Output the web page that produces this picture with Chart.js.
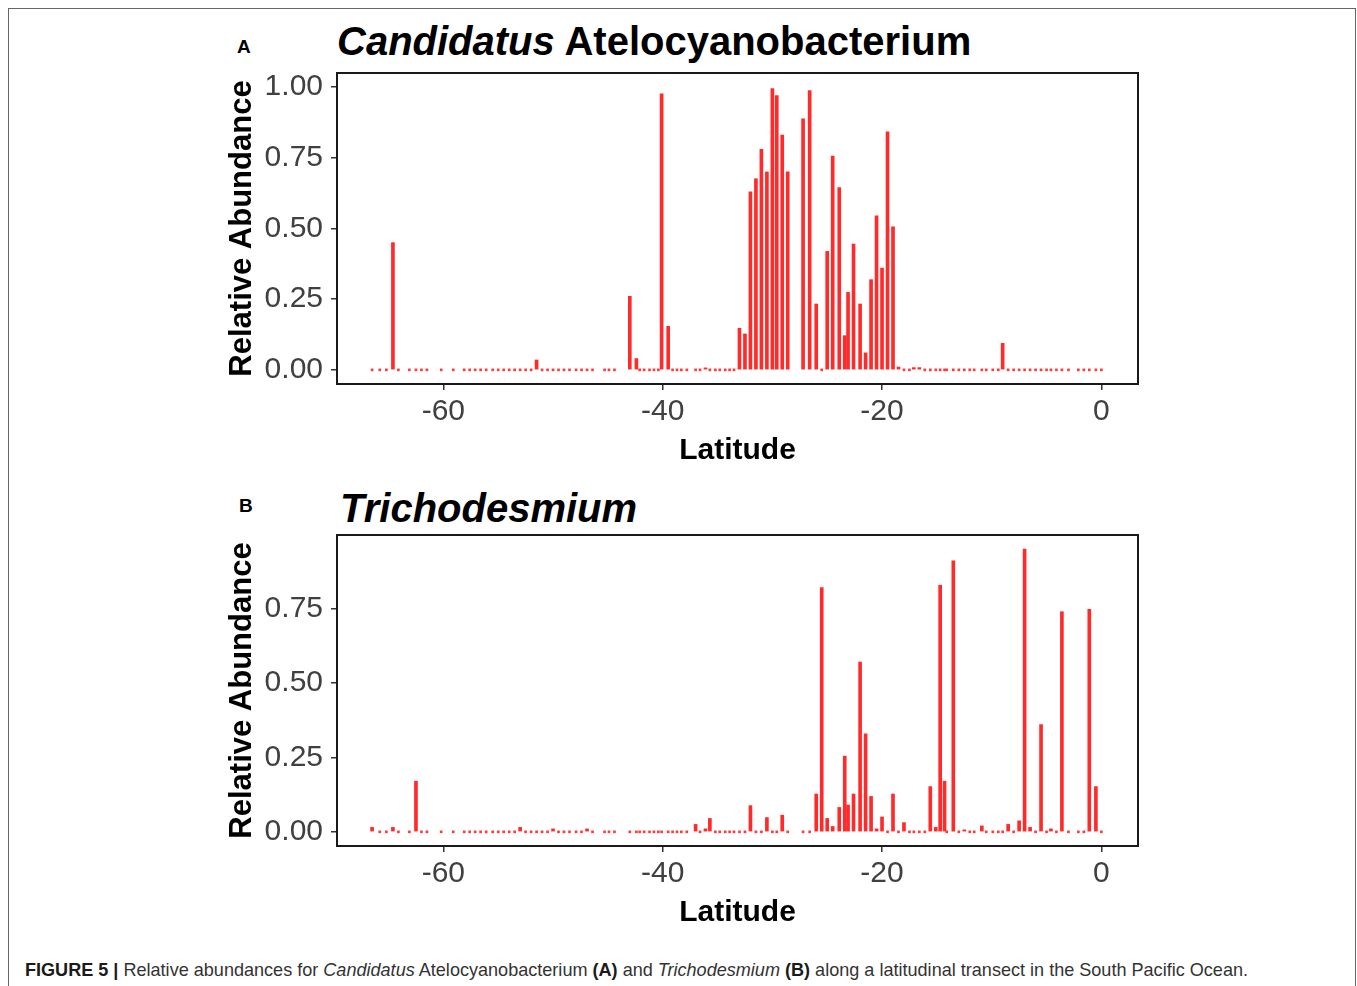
<!DOCTYPE html>
<html lang="en">

<head>
  <meta charset="UTF-8">
  <title>Figure 5</title>
  <script src="https://cdn.jsdelivr.net/npm/chart.js@4.4.0/dist/chart.umd.min.js"></script>
  <style>
    body {
      margin: 0;
      width: 1357px;
      height: 986px;
      position: relative;
      overflow: hidden;
      background: #fff;
      font-family: 'Liberation Sans', Arial, sans-serif;
    }

    .frame {
      position: absolute;
      left: 8px;
      top: 8px;
      width: 1346px;
      height: 1000px;
      border: 1px solid #666;
    }

    .panel {
      position: absolute;
      left: 200px;
      width: 960px;
      height: 420px;
    }

    .title {
      position: absolute;
      font-size: 40px;
      line-height: 40px;
      font-weight: bold;
      white-space: nowrap;
      color: #000;
    }

    .tag {
      position: absolute;
      font-size: 19px;
      line-height: 19px;
      font-weight: bold;
      color: #000;
    }

    #caption {
      position: absolute;
      left: 25px;
      top: 959px;
      font-size: 19px;
      line-height: 22px;
      color: #333;
      white-space: nowrap;
      transform-origin: 0 0;
    }

    #caption b {
      color: #1a1a1a;
    }
  </style>
</head>

<body>
  <div class="frame"></div>

  <div class="tag" style="left:237px; top:37px;">A</div>
  <div class="title" style="left:337px; top:21px;"><i>Candidatus</i> Atelocyanobacterium</div>
  <canvas id="chartA" class="panel" style="top:60px;" width="960" height="420"></canvas>

  <div class="tag" style="left:239px; top:496px;">B</div>
  <div class="title" style="left:340px; top:488px;"><i>Trichodesmium</i></div>
  <canvas id="chartB" class="panel" style="top:522px;" width="960" height="420"></canvas>

  <div id="caption"><b>FIGURE 5 |</b> Relative abundances for <i>Candidatus</i> Atelocyanobacterium <b>(A)</b> and
    <i>Trichodesmium</i> <b>(B)</b> along a latitudinal transect in the South Pacific Ocean.</div>

  <script>
    // sampling stations along the transect (degrees latitude)
    const latitude = [
      -66.5, -65.8, -65.2, -64.6, -64.1, -63.1, -62.5, -62.0, -61.5, -60.2,
      -59.1, -58.1, -57.6, -57.1, -56.6, -56.1, -55.5, -55.0, -54.5, -54.0,
      -53.5, -53.0, -52.5, -52.0, -51.5, -51.0, -50.5, -50.0, -49.5, -49.0,
      -48.5, -47.9, -47.4, -46.9, -46.4, -45.3, -44.9, -44.4, -43.0, -42.4,
      -42.1, -41.7, -41.2, -40.8, -40.4, -40.1, -39.5, -39.1, -38.7, -38.3,
      -37.8, -37.0, -36.6, -36.1, -35.7, -35.2, -34.8, -34.3, -33.9, -33.5,
      -33.0, -32.5, -32.0, -31.5, -31.0, -30.5, -30.0, -29.6, -29.1, -28.6,
      -27.2, -26.6, -26.0, -25.5, -25.0, -24.5, -23.9, -23.4, -23.1, -22.6,
      -22.0, -21.5, -21.0, -20.5, -20.0, -19.5, -19.0, -18.5, -18.0, -17.5,
      -17.1, -16.6, -16.1, -15.6, -15.1, -14.7, -14.3, -14.1, -13.5, -13.0,
      -12.5, -12.0, -11.6, -10.9, -10.5, -9.9, -9.4, -9.0, -8.5, -8.0,
      -7.5, -7.0, -6.5, -6.0, -5.5, -5.0, -4.6, -4.1, -3.6, -3.0,
      -2.1, -1.6, -1.1, -0.5, 0.0
    ];

    // relative abundance of Candidatus Atelocyanobacterium at each station
    const atelocyanobacterium = [
      0, 0, 0, 0.45, 0, 0, 0, 0, 0, 0,
      0, 0, 0, 0, 0, 0, 0, 0, 0, 0,
      0, 0, 0, 0, 0.035, 0, 0, 0, 0, 0,
      0, 0, 0, 0, 0, 0, 0, 0, 0.26, 0.04,
      0, 0, 0, 0, 0, 0.976, 0.154, 0, 0, 0,
      0, 0, 0, 0.005, 0, 0, 0, 0, 0, 0,
      0.147, 0.127, 0.63, 0.676, 0.78, 0.70, 0.995, 0.97, 0.83, 0.70,
      0.888, 0.988, 0.233, 0, 0.419, 0.756, 0.645, 0.121, 0.274, 0.445,
      0.233, 0.06, 0.319, 0.545, 0.36, 0.842, 0.506, 0.01, 0, 0,
      0.008, 0.008, 0, 0, 0, 0, 0, 0, 0, 0,
      0, 0, 0, 0, 0, 0, 0, 0.094, 0, 0,
      0, 0, 0, 0, 0, 0, 0, 0, 0, 0,
      0, 0, 0, 0, 0
    ];

    // relative abundance of Trichodesmium at each station
    const trichodesmium = [
      0.015, 0, 0, 0.015, 0, 0, 0.17, 0, 0, 0,
      0, 0, 0, 0, 0, 0, 0, 0, 0, 0,
      0, 0.015, 0, 0, 0, 0, 0, 0.01, 0, 0,
      0, 0, 0, 0.01, 0, 0, 0, 0, 0, 0,
      0, 0, 0, 0, 0, 0, 0, 0, 0, 0,
      0, 0.025, 0, 0.01, 0.045, 0, 0, 0, 0, 0,
      0, 0, 0.088, 0, 0, 0.048, 0, 0, 0.056, 0,
      0, 0, 0.127, 0.82, 0.045, 0.018, 0.082, 0.254, 0.09, 0.127,
      0.57, 0.329, 0.119, 0.01, 0.05, 0, 0.127, 0, 0.031, 0,
      0, 0, 0, 0.152, 0.015, 0.828, 0.17, 0, 0.91, 0,
      0.005, 0, 0, 0.02, 0, 0, 0, 0, 0.025, 0,
      0.037, 0.949, 0.015, 0, 0.36, 0, 0.01, 0, 0.739, 0,
      0, 0, 0.747, 0.152, 0
    ];

    const latitudeTicks = [-60, -40, -20, 0];
    const abundanceTicksA = [0, 0.25, 0.5, 0.75, 1];
    const abundanceTicksB = [0, 0.25, 0.5, 0.75];

    Chart.defaults.font.family = "'Liberation Sans', Arial, sans-serif";
    Chart.defaults.animation = false;

    // box around the plotting area
    const panelBorder = {
      id: 'panelBorder',
      afterDraw(chart) {
        const { ctx, chartArea: a } = chart;
        ctx.save();
        ctx.strokeStyle = '#1a1a1a';
        ctx.lineWidth = 2;
        ctx.strokeRect(a.left, a.top, a.right - a.left, a.bottom - a.top);
        ctx.restore();
      }
    };

    function noPadding(scale) {
      scale.paddingLeft = 0;
      scale.paddingRight = 0;
      scale.paddingTop = 0;
      scale.paddingBottom = 0;
    }

    function drawPanel(canvasId, values, yMin, yMax, yTicks) {
      const ctx = document.getElementById(canvasId).getContext('2d');
      return new Chart(ctx, {
        type: 'bar',
        data: {
          datasets: [{
            // stations where the taxon was found
            data: latitude.map((lat, i) => ({ x: lat, y: values[i] > 0 ? values[i] : null })),
            backgroundColor: '#ff2b2b',
            borderWidth: 0,
            barThickness: 3,
            minBarLength: 2,
            grouped: false
          }, {
            // stations with zero abundance show as a small dot on the baseline
            data: latitude.map((lat, i) => ({ x: lat, y: values[i] === 0 ? 0 : null })),
            backgroundColor: '#ff3a3a',
            borderWidth: 0,
            barThickness: 2,
            minBarLength: 2,
            grouped: false
          }]
        },
        options: {
          responsive: false,
          layout: { padding: { top: 13, right: 22, left: 0, bottom: 0 } },
          plugins: { legend: { display: false }, tooltip: { enabled: false } },
          scales: {
            x: {
              type: 'linear',
              min: -69.7,
              max: 3.34,
              offset: false,
              afterBuildTicks: s => { s.ticks = latitudeTicks.map(v => ({ value: v })); },
              afterFit: s => { s.height = 96; noPadding(s); },
              grid: { offset: false, drawOnChartArea: false, tickLength: 6, color: '#333', lineWidth: 1.5 },
              border: { display: false },
              ticks: { padding: 4, color: '#404040', font: { size: 30 }, maxRotation: 0, autoSkip: false },
              title: {
                display: true,
                text: 'Latitude',
                color: '#000',
                font: { size: 30, weight: 'bold' },
                padding: { top: 0, bottom: 11 }
              }
            },
            y: {
              min: yMin,
              max: yMax,
              afterBuildTicks: s => { s.ticks = yTicks.map(v => ({ value: v })); },
              afterFit: s => { s.width = 137; noPadding(s); },
              grid: { drawOnChartArea: false, tickLength: 6, color: '#333', lineWidth: 1.5 },
              border: { display: false },
              ticks: { padding: 8, color: '#404040', font: { size: 30 }, callback: v => v.toFixed(2) },
              title: {
                display: true,
                text: 'Relative Abundance',
                color: '#000',
                font: { size: 31, weight: 'bold' },
                padding: { top: 24, bottom: 0 }
              }
            }
          }
        },
        plugins: [panelBorder]
      });
    }

    drawPanel('chartA', atelocyanobacterium, -0.05, 1.05, abundanceTicksA);
    drawPanel('chartB', trichodesmium, -0.0475, 0.9965, abundanceTicksB);

    // the caption font is condensed, so squeeze the line to its printed width
    const caption = document.getElementById('caption');
    caption.style.transform = 'scaleX(' + (1223 / caption.getBoundingClientRect().width) + ')';
  </script>
</body>

</html>
